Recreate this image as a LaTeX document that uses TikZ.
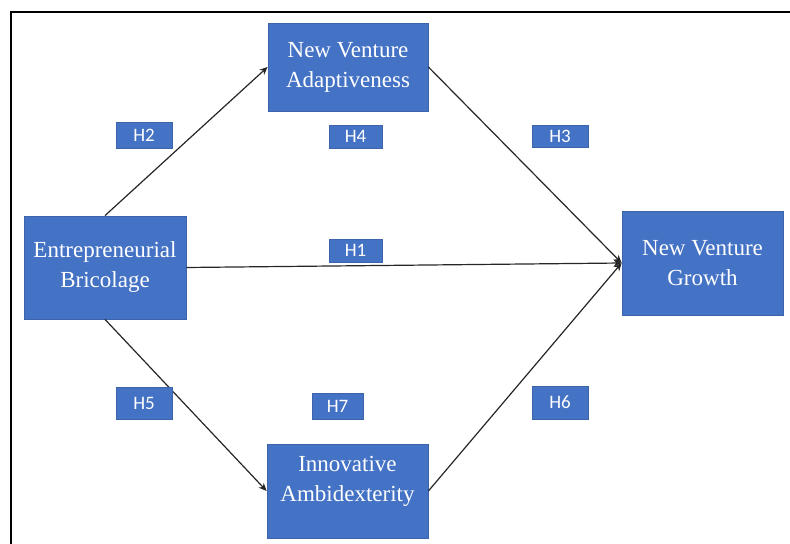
\documentclass[tikz,border=0pt]{standalone}
\usepackage{fontspec}
\setmainfont{Liberation Serif}
\newfontfamily\hypfont{Carlito}
\usetikzlibrary{arrows.meta}
\definecolor{boxblue}{RGB}{68,114,196}
\definecolor{edgeblue}{RGB}{61,100,170}

\begin{document}
\begin{tikzpicture}[x=0.5pt, y=-0.5pt,
    construct/.style={rectangle, fill=boxblue, draw=edgeblue, line width=0.4pt,
        text=white, align=center, inner sep=0pt,
        font=\fontsize{11.5}{15}\selectfont},
    hyp/.style={rectangle, fill=boxblue, draw=edgeblue, line width=0.3pt,
        text=white, inner sep=0pt, font=\hypfont\fontsize{9.5}{11}\selectfont},
    path/.style={draw=black!85, line width=0.6pt, -{Stealth[length=4pt, width=3.5pt]}}]
    \useasboundingbox (0,0) rectangle (790,544);

    % Draw the frame
    \draw[line width=0.9pt] (11,544) -- (11,12) -- (790,12);

    % Draw the constructs
    \node[construct, minimum width=80pt, minimum height=44pt] (adapt) at (348,67) {New Venture\\Adaptiveness};
    \node[construct, minimum width=81pt, minimum height=51.5pt] (brico) at (105,267.5) {Entrepreneurial\\Bricolage};
    \node[construct, minimum width=80.5pt, minimum height=52pt] (growth) at (702.5,263) {New Venture\\Growth};
    \node[construct, minimum width=80.5pt, minimum height=47pt] (ambi) at (347.5,491) {};
    \node[construct, fill=none, draw=none] (ambitext) at (347.5,481) {Innovative\\Ambidexterity};

    % Draw the paths
    \draw[path] (brico.north) -- (adapt.west);
    \draw[path] (adapt.east) -- (growth.west);
    \draw[path] (brico.east) -- (growth.west);
    \draw[path] (brico.south) -- (ambi.west);
    \draw[path] (ambi.east) -- (growth.west);

    % Add the hypothesis labels
    \node[hyp, minimum width=28pt, minimum height=13pt] (h2) at (144,135) {H2};
    \node[hyp, minimum width=26.5pt, minimum height=11.5pt] (h4) at (355.5,136.5) {H4};
    \node[hyp, minimum width=28pt, minimum height=11pt] (h3) at (560,136) {H3};
    \node[hyp, minimum width=26.5pt, minimum height=11.5pt] (h1) at (355.5,250.5) {H1};
    \node[hyp, minimum width=28pt, minimum height=16pt] (h5) at (144,403) {H5};
    \node[hyp, minimum width=25.5pt, minimum height=13pt] (h7) at (337.5,406) {H7};
    \node[hyp, minimum width=28pt, minimum height=16.5pt] (h6) at (560,402.5) {H6};
\end{tikzpicture}
\end{document}
